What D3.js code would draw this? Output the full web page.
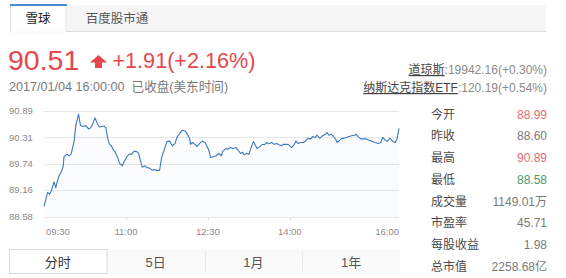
<!DOCTYPE html>
<html>
<head>
<meta charset="utf-8">
<script src="https://cdn.jsdelivr.net/npm/d3@7/dist/d3.min.js"></script>
<style>
  html, body { margin: 0; padding: 0; background: #fff; }
  svg { display: block; font-family: "Liberation Sans", Arial, "Noto Sans CJK SC", sans-serif; }
</style>
</head>
<body>
<svg id="chart" width="566" height="278"></svg>
<script>
// Intraday minute prices (US Eastern time)
const times = ["09:30","09:34","09:36","09:38","09:41","09:43","09:45","09:47","09:49","09:51","09:52","09:55","09:58","10:00","10:03","10:05","10:08","10:10","10:13","10:16","10:19","10:21","10:23","10:26","10:29","10:31","10:36","10:38","10:40","10:42","10:44","10:46","10:48","10:51","10:53","10:56","10:58","11:01","11:04","11:06","11:09","11:12","11:14","11:16","11:18","11:21","11:23","11:26","11:29","11:31","11:34","11:37","11:39","11:42","11:45","11:48","11:51","11:54","11:56","11:59","12:02","12:05","12:07","12:10","12:11","12:13","12:16","12:18","12:21","12:24","12:27","12:29","12:31","12:33","12:36","12:39","12:42","12:45","12:46","12:50","12:52","12:55","12:58","13:01","13:03","13:06","13:08","13:10","13:13","13:15","13:17","13:20","13:22","13:24","13:27","13:30","13:32","13:35","13:37","13:40","13:43","13:46","13:48","13:51","13:53","13:57","13:59","14:02","14:05","14:07","14:09","14:12","14:15","14:18","14:20","14:23","14:25","14:28","14:30","14:33","14:36","14:39","14:41","14:43","14:46","14:49","14:51","14:52","14:55","14:57","14:59","15:02","15:05","15:08","15:11","15:13","15:15","15:18","15:21","15:24","15:27","15:30","15:34","15:37","15:40","15:42","15:45","15:47","15:50","15:53","15:56","15:58","16:00"];
const prices = [88.80,89.11,89.07,89.14,89.34,89.21,89.38,89.49,89.56,89.67,89.89,89.94,89.91,89.96,90.22,90.58,90.82,90.58,90.55,90.57,90.50,90.52,90.58,90.74,90.60,90.54,90.56,90.52,90.29,90.16,90.13,90.04,90.00,89.87,89.75,89.69,89.78,89.89,89.95,89.94,90.01,90.00,89.96,89.80,89.66,89.69,89.65,89.64,89.59,89.61,89.59,89.59,89.85,90.04,90.22,90.23,90.13,90.18,90.31,90.40,90.47,90.45,90.40,90.29,90.16,90.20,90.16,90.11,90.18,90.23,90.20,90.11,90.04,89.87,89.89,89.91,89.96,89.91,90.00,90.07,90.05,90.09,90.07,90.09,90.04,89.96,89.99,89.93,89.96,89.94,90.06,90.22,90.15,90.07,90.11,90.16,90.15,90.20,90.17,90.20,90.16,90.18,90.15,90.13,90.16,90.16,90.15,90.09,90.16,90.23,90.18,90.20,90.20,90.25,90.29,90.28,90.33,90.31,90.36,90.29,90.35,90.38,90.42,90.36,90.38,90.31,90.25,90.20,90.25,90.29,90.29,90.31,90.33,90.35,90.36,90.38,90.33,90.28,90.28,90.28,90.25,90.23,90.20,90.18,90.20,90.31,90.25,90.23,90.29,90.23,90.20,90.29,90.51];

const yTicks = [88.58, 89.16, 89.74, 90.31, 90.89];
const xTickLabels = ["09:30", "11:00", "12:30", "14:00", "16:00"];

const quoteTabs = ["雪球", "百度股市通"];
const rangeTabs = ["分时", "5日", "1月", "1年"];

const lastPrice = "90.51";
const change = "+1.91(+2.16%)";
const stampText = "2017/01/04 16:00:00  已收盘(美东时间)";
const indexNames = ["道琼斯", "纳斯达克指数ETF"];
const indexValues = [":19942.16(+0.30%)", ":120.19(+0.54%)"];

const statLabels = ["今开", "昨收", "最高", "最低", "成交量", "市盈率", "每股收益", "总市值"];
const statValues = ["88.99", "88.60", "90.89", "88.58", "1149.01万", "45.71", "1.98", "2258.68亿"];
const statTone = ["up", "flat", "up", "down", "flat", "flat", "flat", "flat"];

const RED = "#e5474c";
const toneColor = { up: "#e36d72", flat: "#7a7a7a", down: "#4c9a6e" };

const svg = d3.select("#chart");
const toMin = s => { const [h, m] = s.split(":").map(Number); return h * 60 + m; };

// ---- top tab bar ----
svg.append("rect").attr("x", 66).attr("y", 5).attr("width", 480).attr("height", 26).attr("fill", "#f6f6f6");
svg.append("line").attr("x1", 66).attr("x2", 546).attr("y1", 31.5).attr("y2", 31.5).attr("stroke", "#dcdcdc");
svg.append("rect").attr("x", 10.5).attr("y", 5).attr("width", 55.5).attr("height", 27).attr("fill", "#fff")
  .attr("stroke", "#e2e2e2");
svg.append("rect").attr("x", 10).attr("y", 4).attr("width", 57).attr("height", 2).attr("fill", "#4a8bd6");
svg.append("line").attr("x1", 10.5).attr("x2", 66).attr("y1", 32).attr("y2", 32).attr("stroke", "#fff").attr("stroke-width", 1.5);
const tabX = [38, 117];
quoteTabs.forEach((t, i) => {
  svg.append("text").attr("x", tabX[i]).attr("y", 23).attr("text-anchor", "middle")
    .attr("font-size", 12.5).attr("fill", i === 0 ? "#222" : "#555").text(t);
});

// ---- price header ----
svg.append("text").attr("x", 8).attr("y", 70).attr("font-size", 28.5).attr("fill", RED).text(lastPrice);
svg.append("path").attr("fill", RED)
  .attr("d", "M98.5,55 L107,62.5 L102,62.5 L102,68 L95,68 L95,62.5 L90,62.5 Z");
svg.append("text").attr("x", 112.5).attr("y", 68).attr("font-size", 21.6).attr("fill", RED).text(change);
svg.append("text").attr("x", 9).attr("y", 91).attr("font-size", 12.6).attr("fill", "#7a7a7a")
  .attr("xml:space", "preserve").style("white-space", "pre").text(stampText);

// index quotes, right aligned
[74, 92].forEach((y, i) => {
  const t = svg.append("text").attr("x", 547).attr("y", y).attr("text-anchor", "end").attr("font-size", 12);
  t.append("tspan").attr("fill", "#444").attr("text-decoration", "underline").text(indexNames[i]);
  t.append("tspan").attr("fill", "#8a8a8a").text(indexValues[i]);
});

// ---- intraday chart ----
const x = d3.scaleLinear().domain([toMin("09:30"), toMin("16:00")]).range([44, 399]);
const y = d3.scaleLinear().domain([88.58, 90.89]).range([216.5, 111]);

const data = times.map((t, i) => ({ t: toMin(t), v: prices[i] }));

svg.append("g").selectAll("line").data(yTicks).join("line")
  .attr("x1", 44).attr("x2", 399)
  .attr("y1", d => Math.round(y(d)) + 0.5).attr("y2", d => Math.round(y(d)) + 0.5)
  .attr("stroke", "#e6e6e6");

svg.append("g").selectAll("text").data(yTicks).join("text")
  .attr("x", 9).attr("y", d => y(d)).attr("dy", "0.35em")
  .attr("font-size", 9.5).attr("fill", "#8a8a8a").text(d => d.toFixed(2));

// small tick marks under the baseline
svg.append("g").selectAll("line").data(xTickLabels.slice(1, -1)).join("line")
  .attr("x1", d => Math.round(x(toMin(d))) + 0.5).attr("x2", d => Math.round(x(toMin(d))) + 0.5)
  .attr("y1", 217).attr("y2", 220).attr("stroke", "#e0e0e0");

svg.append("g").selectAll("text").data(xTickLabels).join("text")
  .attr("x", (d, i) => i === 0 ? 46 : i === xTickLabels.length - 1 ? 399 : x(toMin(d)))
  .attr("y", 235)
  .attr("text-anchor", (d, i) => i === 0 ? "start" : i === xTickLabels.length - 1 ? "end" : "middle")
  .attr("font-size", 9.5).attr("fill", "#8a8a8a").text(d => d);

const area = d3.area().x(d => x(d.t)).y0(y(88.58)).y1(d => y(d.v));
svg.append("path").datum(data).attr("d", area).attr("fill", "#3f7ec6").attr("opacity", 0.025);

const line = d3.line().x(d => x(d.t)).y(d => y(d.v));
svg.append("path").datum(data).attr("d", line)
  .attr("fill", "none").attr("stroke", "#3d78be").attr("stroke-width", 1.1).attr("stroke-linejoin", "round");

// ---- stats panel ----
statLabels.forEach((lab, i) => {
  const cy = 114.5 + i * 21.7;
  svg.append("text").attr("x", 431).attr("y", cy).attr("dy", "0.35em")
    .attr("font-size", 12).attr("fill", "#4a4a4a").text(lab);
  svg.append("text").attr("x", 547).attr("y", cy).attr("dy", "0.35em").attr("text-anchor", "end")
    .attr("font-size", 12).attr("fill", toneColor[statTone[i]]).text(statValues[i]);
});

// ---- range tabs ----
const tabW = 97.75;
svg.append("rect").attr("x", 107).attr("y", 249).attr("width", 293).attr("height", 25).attr("fill", "#fafafa");
rangeTabs.forEach((t, i) => {
  const x0 = 9 + i * tabW;
  if (i === 0) {
    svg.append("rect").attr("x", 9.5).attr("y", 249.5).attr("width", 97.5).attr("height", 24)
      .attr("fill", "#fff").attr("stroke", "#d8d8d8");
  } else if (i > 1) {
    svg.append("line").attr("x1", Math.round(x0) + 0.5).attr("x2", Math.round(x0) + 0.5)
      .attr("y1", 252).attr("y2", 271).attr("stroke", "#e8e8e8");
  }
  svg.append("text").attr("x", x0 + tabW / 2).attr("y", 262).attr("dy", "0.35em").attr("text-anchor", "middle")
    .attr("font-size", 13).attr("fill", i === 0 ? "#333" : "#555").text(t);
});
</script>
</body>
</html>
